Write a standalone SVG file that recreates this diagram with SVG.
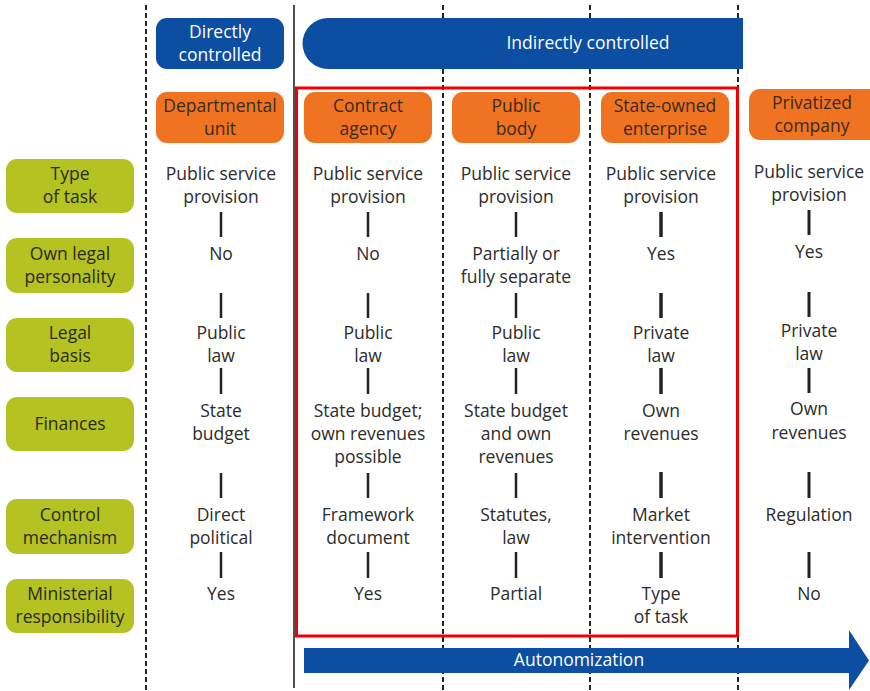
<svg xmlns="http://www.w3.org/2000/svg" width="870" height="691" viewBox="0 0 870 691">
<style>
  .t { font-family: "Open Sans", "Noto Sans", sans-serif; font-size: 17.5px; fill: #2c2c2c; text-anchor: middle; }
  .w { font-family: "Open Sans", "Noto Sans", sans-serif; font-size: 17.5px; fill: #ffffff; text-anchor: middle; }
  .o { font-family: "Open Sans", "Noto Sans", sans-serif; font-size: 17.5px; fill: #3a2a1e; text-anchor: middle; }
  .g { font-family: "Open Sans", "Noto Sans", sans-serif; font-size: 17.5px; fill: #2a2a1a; text-anchor: middle; }
  .dash { stroke: #222222; stroke-width: 2; stroke-dasharray: 5 3; fill: none; }
  .solid { stroke: #222222; stroke-width: 1.6; fill: none; }
  .bar { stroke: #222222; stroke-width: 2.5; }
  .bar4 { stroke: #222222; stroke-width: 3.5; }
  .bar5 { stroke: #222222; stroke-width: 3; }
  .blue { fill: #0B4EA2; }
  .orange { fill: #F07322; }
  .green { fill: #B4C321; }
</style>

<!-- column dividers -->
<g id="dividers">
  <line class="dash" x1="146" y1="5" x2="146" y2="691"/>
  <line class="solid" x1="294" y1="5" x2="294" y2="688"/>
  <line class="dash" x1="443" y1="5" x2="443" y2="691"/>
  <line class="dash" x1="590" y1="5" x2="590" y2="691"/>
  <line class="dash" x1="738" y1="5" x2="738" y2="691"/>
</g>

<!-- header bars -->
<g id="directly-controlled">
  <rect class="blue" x="156" y="18" width="128" height="51" rx="11"/>
  <text class="w" x="220" y="38">Directly</text>
  <text class="w" x="220" y="61">controlled</text>
</g>
<g id="indirectly-controlled">
  <path class="blue" d="M743 18 H328 A25.5 25.5 0 0 0 328 69 H743 Z"/>
  <text class="w" x="588" y="49">Indirectly controlled</text>
</g>

<!-- organisation types -->
<g id="departmental-unit">
  <rect class="orange" x="156" y="92" width="128" height="51" rx="11"/>
  <text class="o" x="220" y="111.5">Departmental</text>
  <text class="o" x="220" y="134.5">unit</text>
</g>
<g id="contract-agency">
  <rect class="orange" x="304" y="92" width="128" height="51" rx="11"/>
  <text class="o" x="368" y="111.5">Contract</text>
  <text class="o" x="368" y="134.5">agency</text>
</g>
<g id="public-body">
  <rect class="orange" x="452" y="92" width="128" height="51" rx="11"/>
  <text class="o" x="516" y="111.5">Public</text>
  <text class="o" x="516" y="134.5">body</text>
</g>
<g id="state-owned-enterprise">
  <rect class="orange" x="601" y="92" width="128" height="51" rx="11"/>
  <text class="o" x="665" y="111.5">State-owned</text>
  <text class="o" x="665" y="134.5">enterprise</text>
</g>
<g id="privatized-company">
  <rect class="orange" x="749" y="89" width="135" height="51" rx="11"/>
  <text class="o" x="812" y="109">Privatized</text>
  <text class="o" x="812" y="132">company</text>
</g>

<!-- row labels -->
<g id="label-type-of-task">
  <rect class="green" x="6" y="159" width="128" height="54" rx="11"/>
  <text class="g" x="70" y="180">Type</text>
  <text class="g" x="70" y="203">of task</text>
</g>
<g id="label-own-legal-personality">
  <rect class="green" x="6" y="238" width="128" height="55" rx="11"/>
  <text class="g" x="70" y="260">Own legal</text>
  <text class="g" x="70" y="283">personality</text>
</g>
<g id="label-legal-basis">
  <rect class="green" x="6" y="318" width="128" height="54" rx="11"/>
  <text class="g" x="70" y="339">Legal</text>
  <text class="g" x="70" y="362">basis</text>
</g>
<g id="label-finances">
  <rect class="green" x="6" y="397" width="128" height="54" rx="11"/>
  <text class="g" x="70" y="430">Finances</text>
</g>
<g id="label-control-mechanism">
  <rect class="green" x="6" y="499" width="128" height="55" rx="11"/>
  <text class="g" x="70" y="521">Control</text>
  <text class="g" x="70" y="544">mechanism</text>
</g>
<g id="label-ministerial-responsibility">
  <rect class="green" x="6" y="579" width="128" height="54" rx="11"/>
  <text class="g" x="70" y="600">Ministerial</text>
  <text class="g" x="70" y="623">responsibility</text>
</g>

<!-- connectors (vertical bars between attributes) -->
<g id="connectors">
  <line class="bar" x1="221" y1="212" x2="221" y2="237"/>
  <line class="bar" x1="221" y1="293" x2="221" y2="318"/>
  <line class="bar" x1="221" y1="368" x2="221" y2="394"/>
  <line class="bar" x1="221" y1="473" x2="221" y2="498"/>
  <line class="bar" x1="221" y1="552" x2="221" y2="578"/>

  <line class="bar" x1="368" y1="212" x2="368" y2="237"/>
  <line class="bar" x1="368" y1="293" x2="368" y2="318"/>
  <line class="bar" x1="368" y1="368" x2="368" y2="394"/>
  <line class="bar" x1="368" y1="473" x2="368" y2="498"/>
  <line class="bar" x1="368" y1="552" x2="368" y2="578"/>

  <line class="bar" x1="516" y1="212" x2="516" y2="237"/>
  <line class="bar" x1="516" y1="293" x2="516" y2="318"/>
  <line class="bar" x1="516" y1="368" x2="516" y2="394"/>
  <line class="bar" x1="516" y1="473" x2="516" y2="498"/>
  <line class="bar" x1="516" y1="552" x2="516" y2="578"/>

  <line class="bar4" x1="661" y1="212" x2="661" y2="237"/>
  <line class="bar4" x1="661" y1="293" x2="661" y2="318"/>
  <line class="bar4" x1="661" y1="368" x2="661" y2="394"/>
  <line class="bar4" x1="661" y1="472" x2="661" y2="498"/>
  <line class="bar4" x1="661" y1="552" x2="661" y2="578"/>

  <line class="bar5" x1="809" y1="210" x2="809" y2="235"/>
  <line class="bar5" x1="809" y1="292" x2="809" y2="317"/>
  <line class="bar5" x1="809" y1="368" x2="809" y2="393"/>
  <line class="bar5" x1="809" y1="472" x2="809" y2="498"/>
  <line class="bar5" x1="809" y1="552" x2="809" y2="578"/>
</g>

<!-- column values -->
<g id="values-departmental-unit">
  <text class="t" x="221" y="180">Public service</text>
  <text class="t" x="221" y="203">provision</text>
  <text class="t" x="221" y="260">No</text>
  <text class="t" x="221" y="339">Public</text>
  <text class="t" x="221" y="362">law</text>
  <text class="t" x="221" y="417">State</text>
  <text class="t" x="221" y="440">budget</text>
  <text class="t" x="221" y="521">Direct</text>
  <text class="t" x="221" y="544">political</text>
  <text class="t" x="221" y="600">Yes</text>
</g>
<g id="values-contract-agency">
  <text class="t" x="368" y="180">Public service</text>
  <text class="t" x="368" y="203">provision</text>
  <text class="t" x="368" y="260">No</text>
  <text class="t" x="368" y="339">Public</text>
  <text class="t" x="368" y="362">law</text>
  <text class="t" x="368" y="417">State budget;</text>
  <text class="t" x="368" y="440">own revenues</text>
  <text class="t" x="368" y="463">possible</text>
  <text class="t" x="368" y="521">Framework</text>
  <text class="t" x="368" y="544">document</text>
  <text class="t" x="368" y="600">Yes</text>
</g>
<g id="values-public-body">
  <text class="t" x="516" y="180">Public service</text>
  <text class="t" x="516" y="203">provision</text>
  <text class="t" x="516" y="260">Partially or</text>
  <text class="t" x="516" y="283">fully separate</text>
  <text class="t" x="516" y="339">Public</text>
  <text class="t" x="516" y="362">law</text>
  <text class="t" x="516" y="417">State budget</text>
  <text class="t" x="516" y="440">and own</text>
  <text class="t" x="516" y="463">revenues</text>
  <text class="t" x="516" y="521">Statutes,</text>
  <text class="t" x="516" y="544">law</text>
  <text class="t" x="516" y="600">Partial</text>
</g>
<g id="values-state-owned-enterprise">
  <text class="t" x="661" y="180">Public service</text>
  <text class="t" x="661" y="203">provision</text>
  <text class="t" x="661" y="260">Yes</text>
  <text class="t" x="661" y="339">Private</text>
  <text class="t" x="661" y="362">law</text>
  <text class="t" x="661" y="417">Own</text>
  <text class="t" x="661" y="440">revenues</text>
  <text class="t" x="661" y="521">Market</text>
  <text class="t" x="661" y="544">intervention</text>
  <text class="t" x="661" y="600">Type</text>
  <text class="t" x="661" y="623">of task</text>
</g>
<g id="values-privatized-company">
  <text class="t" x="809" y="178">Public service</text>
  <text class="t" x="809" y="201">provision</text>
  <text class="t" x="809" y="258">Yes</text>
  <text class="t" x="809" y="337">Private</text>
  <text class="t" x="809" y="360">law</text>
  <text class="t" x="809" y="415">Own</text>
  <text class="t" x="809" y="439">revenues</text>
  <text class="t" x="809" y="521">Regulation</text>
  <text class="t" x="809" y="600">No</text>
</g>

<!-- highlight frame -->
<g id="highlight">
  <rect x="296.5" y="88" width="441" height="548" fill="none" stroke="#F00000" stroke-width="3"/>
</g>

<!-- autonomization arrow -->
<g id="autonomization">
  <path class="blue" d="M304 648 H849 V630 L869 660.5 L849 690 V673 H304 Z"/>
  <text class="w" x="579" y="666">Autonomization</text>
</g>
</svg>
